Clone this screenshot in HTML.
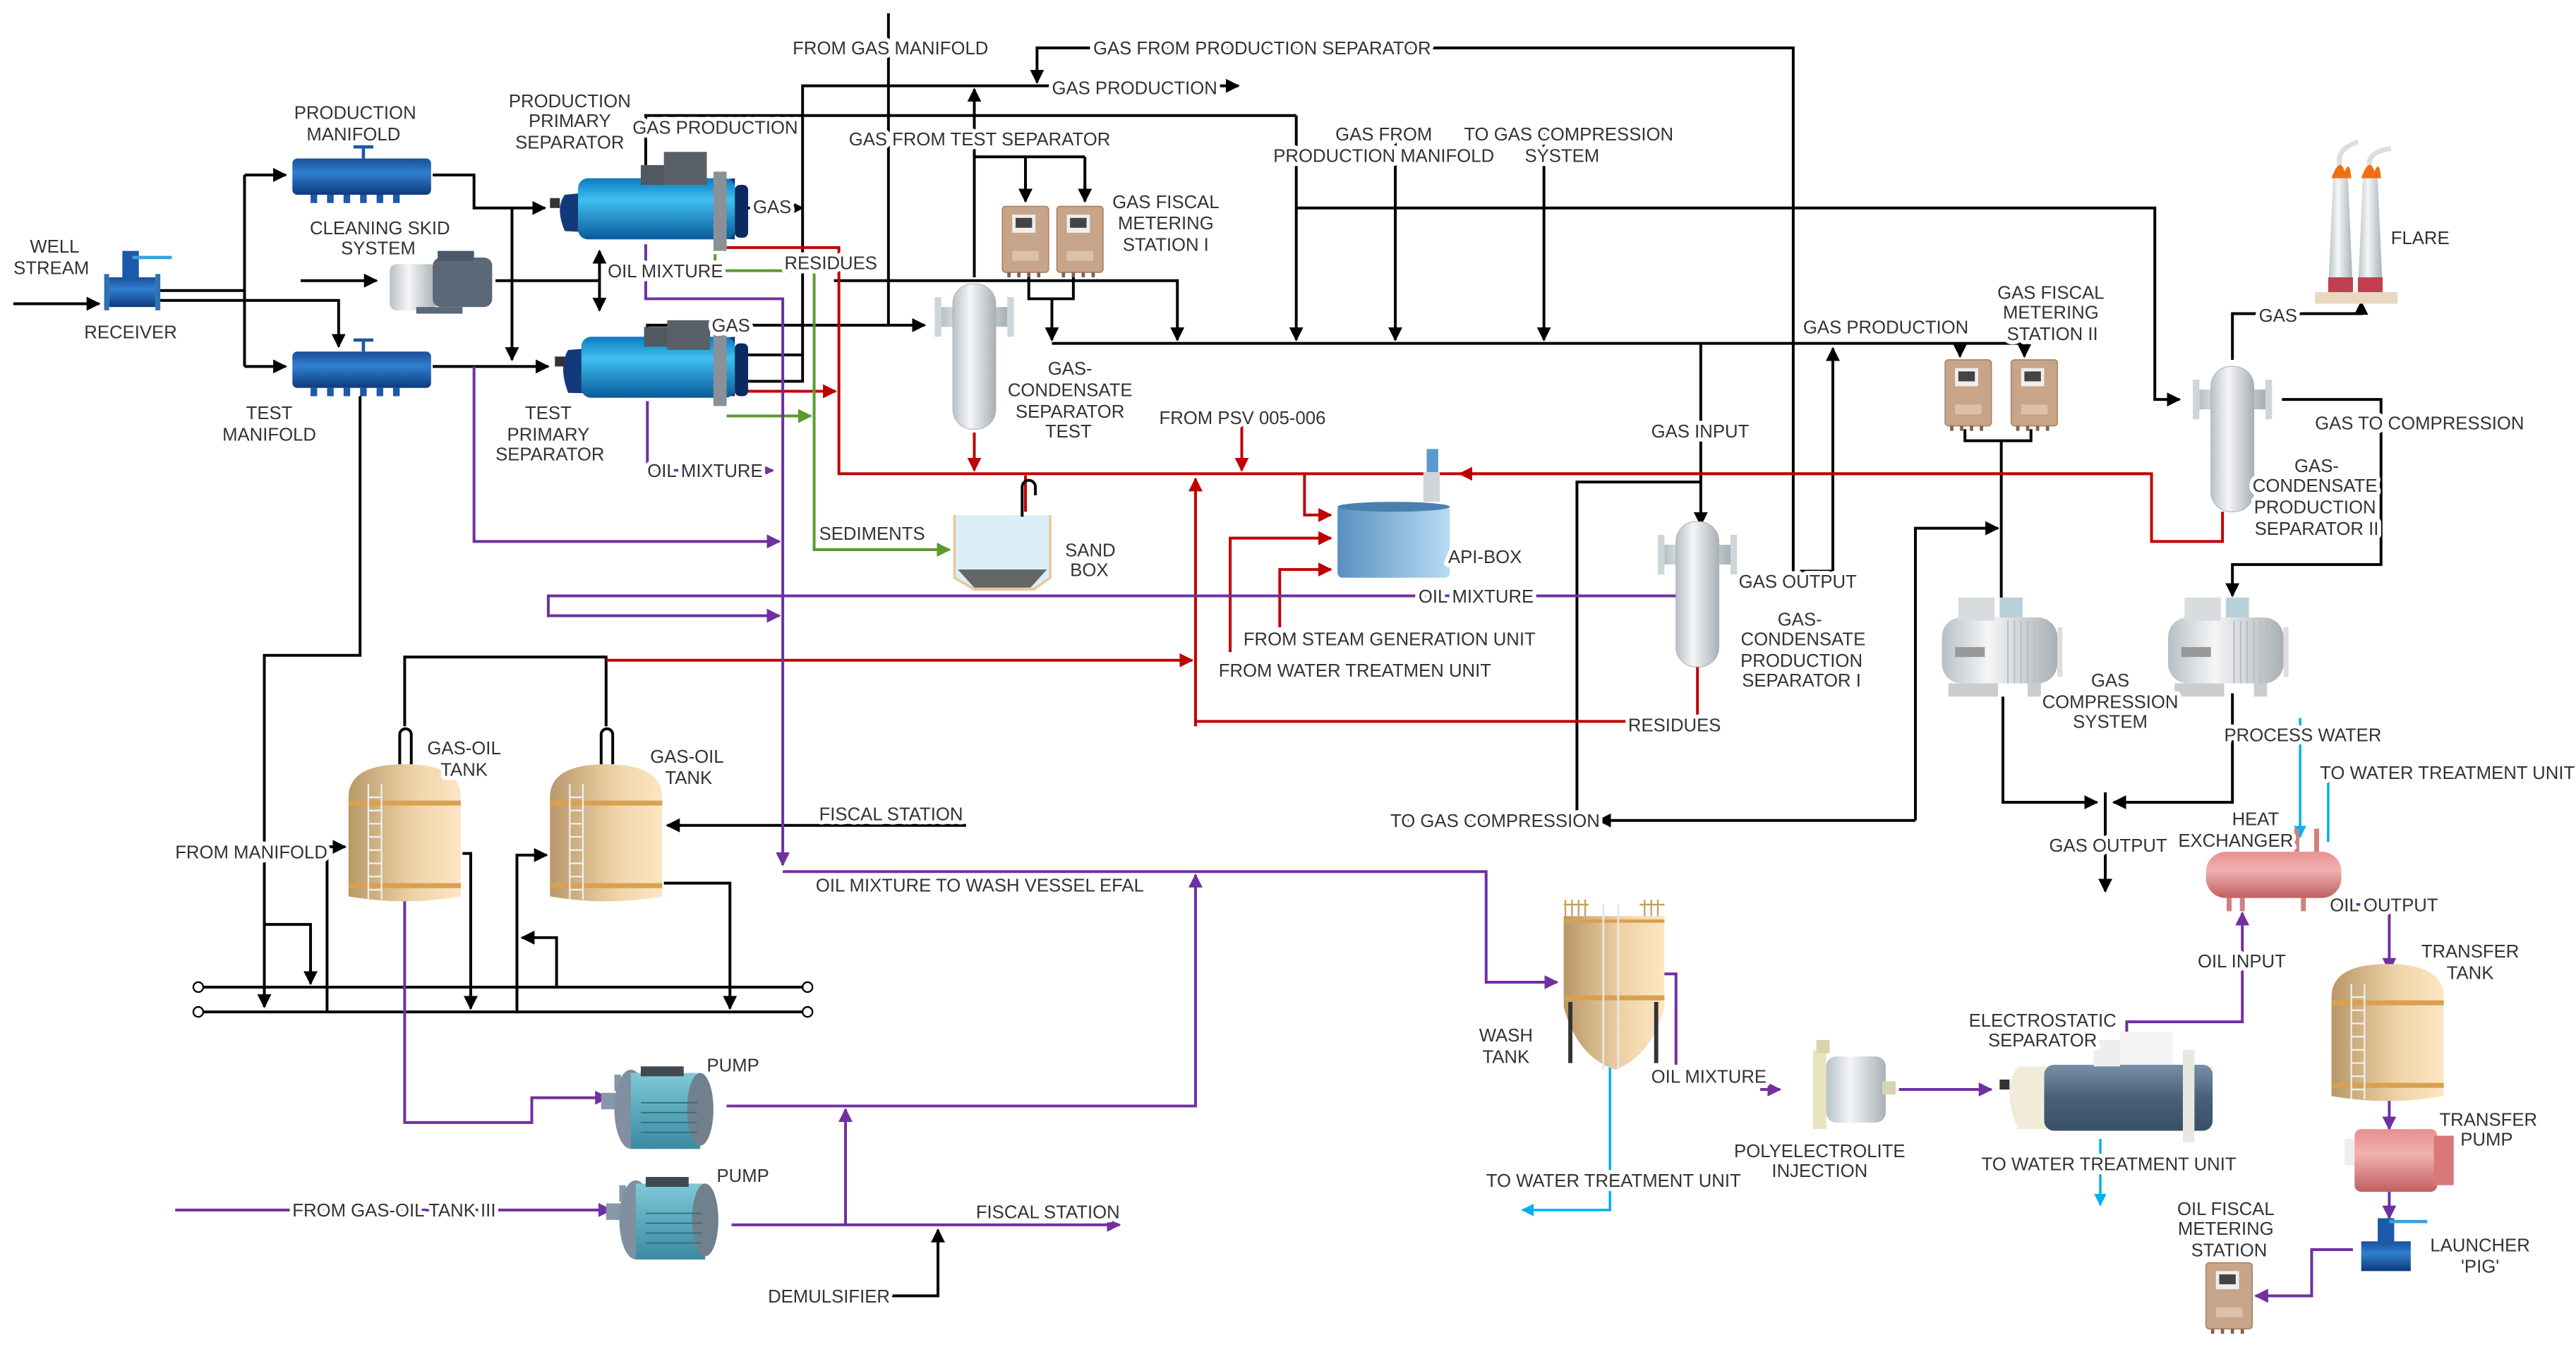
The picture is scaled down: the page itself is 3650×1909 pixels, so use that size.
<!DOCTYPE html>
<html><head><meta charset="utf-8"><style>
html,body{margin:0;padding:0;background:#fff;width:3650px;height:1909px;overflow:hidden}
svg{display:block}
text{font-family:"Liberation Sans",sans-serif;font-size:11px;fill:#333;stroke:#fff;stroke-width:5px;paint-order:stroke;stroke-linejoin:round}
.k{stroke:#000;stroke-width:1.7;fill:none}
.r{stroke:#c00000;stroke-width:1.7;fill:none}
.p{stroke:#7030a0;stroke-width:1.7;fill:none}
.g{stroke:#5a9a30;stroke-width:1.7;fill:none}
.b{stroke:#00b0f0;stroke-width:1.5;fill:none}
</style></head><body>
<svg width="3650" height="1909" viewBox="0 0 1560 816" xmlns="http://www.w3.org/2000/svg">
<defs>
<marker id="ak" viewBox="0 0 10 10" refX="9" refY="5" markerWidth="5" markerHeight="5" orient="auto"><path d="M0,0L10,5L0,10z" fill="#000"/></marker>
<marker id="ar" viewBox="0 0 10 10" refX="9" refY="5" markerWidth="5" markerHeight="5" orient="auto"><path d="M0,0L10,5L0,10z" fill="#c00000"/></marker>
<marker id="ap" viewBox="0 0 10 10" refX="9" refY="5" markerWidth="5" markerHeight="5" orient="auto"><path d="M0,0L10,5L0,10z" fill="#7030a0"/></marker>
<marker id="ag" viewBox="0 0 10 10" refX="9" refY="5" markerWidth="5" markerHeight="5" orient="auto"><path d="M0,0L10,5L0,10z" fill="#5a9a30"/></marker>
<marker id="ab" viewBox="0 0 10 10" refX="9" refY="5" markerWidth="5" markerHeight="5" orient="auto"><path d="M0,0L10,5L0,10z" fill="#00b0f0"/></marker>
<linearGradient id="blue" x1="0" y1="0" x2="0" y2="1"><stop offset="0" stop-color="#1a4f9a"/><stop offset=".4" stop-color="#2f7fd0"/><stop offset="1" stop-color="#0d3a7a"/></linearGradient>
<linearGradient id="sep" x1="0" y1="0" x2="0" y2="1"><stop offset="0" stop-color="#0a7ac0"/><stop offset=".35" stop-color="#3fc0f0"/><stop offset="1" stop-color="#0a5a9a"/></linearGradient>
<linearGradient id="silver" x1="0" y1="0" x2="1" y2="0"><stop offset="0" stop-color="#b8c0c4"/><stop offset=".4" stop-color="#f4f6f7"/><stop offset="1" stop-color="#a8b0b4"/></linearGradient>
<linearGradient id="tan" x1="0" y1="0" x2="1" y2="0"><stop offset="0" stop-color="#b89868"/><stop offset=".6" stop-color="#f0d4a8"/><stop offset="1" stop-color="#fde6c4"/></linearGradient>
<linearGradient id="pink" x1="0" y1="0" x2="0" y2="1"><stop offset="0" stop-color="#e89090"/><stop offset=".4" stop-color="#f2b0b0"/><stop offset="1" stop-color="#c06060"/></linearGradient>
<linearGradient id="api" x1="0" y1="0" x2="1" y2="0"><stop offset="0" stop-color="#5a90c0"/><stop offset="1" stop-color="#b8dcf4"/></linearGradient>
<linearGradient id="teal" x1="0" y1="0" x2="0" y2="1"><stop offset="0" stop-color="#7fc8d8"/><stop offset="1" stop-color="#3a8aa0"/></linearGradient>
<linearGradient id="grey" x1="0" y1="0" x2="0" y2="1"><stop offset="0" stop-color="#7890a8"/><stop offset=".5" stop-color="#4a6078"/><stop offset="1" stop-color="#3a5068"/></linearGradient>
<g id="meter"><rect x="0" y="0" width="28" height="40" rx="2" fill="#c8a488" stroke="#a88468" stroke-width=".7"/><rect x="6" y="5" width="14" height="11" fill="#eee"/><rect x="8" y="7" width="10" height="6" fill="#444"/><rect x="6" y="27" width="16" height="6" fill="#dcc0a8"/><path d="M4,40v3M10,40v3M16,40v3M22,40v3" stroke="#806050" stroke-width="2"/></g>
<g id="vsep"><rect x="-20" y="14" width="40" height="12" fill="url(#silver)"/><rect x="-24" y="8" width="4" height="24" fill="#cfd6d9"/><rect x="20" y="8" width="4" height="24" fill="#cfd6d9"/><rect x="-13" y="0" width="26" height="88" rx="12" fill="url(#silver)" stroke="#aab" stroke-width=".4"/></g>
<g id="tank"><path d="M0,20 Q0,0 34,0 Q68,0 68,20 V80 Q34,86 0,80Z" fill="url(#tan)"/><rect x="0" y="22" width="68" height="3" fill="#d9a050"/><rect x="0" y="72" width="68" height="3" fill="#d9a050"/><path d="M12,12V82M20,12V82" stroke="#eee" stroke-width="1"/><path d="M12,20h8M12,28h8M12,36h8M12,44h8M12,52h8M12,60h8M12,68h8M12,76h8" stroke="#eee" stroke-width="1"/></g>
<g id="pump"><rect x="0" y="14" width="10" height="10" fill="#8898a8"/><rect x="8" y="3" width="4" height="10" fill="#8898a8"/><ellipse cx="18" cy="24" rx="10" ry="24" fill="#8090a0"/><rect x="18" y="2" width="42" height="46" fill="url(#teal)"/><rect x="24" y="-2" width="26" height="6" fill="#404850"/><ellipse cx="60" cy="24" rx="8" ry="22" fill="#70808c"/><path d="M24,20h34M24,26h34M24,32h34M24,38h34" stroke="#2f7080" stroke-width=".8"/></g>
<g id="comp"><rect x="0" y="12" width="70" height="40" rx="12" fill="url(#silver)"/><rect x="10" y="0" width="22" height="14" fill="#d8dcdf"/><rect x="35" y="0" width="14" height="12" fill="#b8d0d8"/><path d="M40,14V52M44,14V52M48,14V52M52,14V52M56,14V52M60,14V52" stroke="#bbb" stroke-width=".8"/><rect x="8" y="30" width="18" height="6" fill="#999"/><rect x="4" y="52" width="30" height="8" fill="#ccc"/><rect x="52" y="52" width="8" height="8" fill="#ccc"/><rect x="70" y="18" width="3" height="30" fill="#ddd"/></g>
</defs>

<path class="k" d="M8,184H60" marker-end="url(#ak)"/>
<path class="k" d="M95,176H148M95,182H205V210" marker-end="url(#ak)"/>
<path class="k" d="M148,106V222" />
<path class="k" d="M148,106H173" marker-end="url(#ak)"/>
<path class="k" d="M148,222H173" marker-end="url(#ak)"/>
<path class="k" d="M262,106H287V126H330" marker-end="url(#ak)"/>
<path class="k" d="M310,126V218" marker-end="url(#ak)"/>
<path class="k" d="M262,222H332" marker-end="url(#ak)"/>
<path class="k" d="M182,170H228" marker-end="url(#ak)"/>
<path class="k" d="M300,170H363"/>
<path class="k" d="M363,170V152" marker-end="url(#ak)"/>
<path class="k" d="M363,170V188" marker-end="url(#ak)"/>
<path class="k" d="M453,126H486" marker-end="url(#ak)"/>
<path class="k" d="M391,108V70H785"/>
<path class="k" d="M538,8V197"/>
<path class="k" d="M486,215V52H750" marker-end="url(#ak)"/>
<path class="k" d="M453,215H486"/>
<path class="k" d="M392,205V197H560" marker-end="url(#ak)"/>
<path class="k" d="M453,231H486V215"/>
<path class="k" d="M1086,346V29H628V50" marker-end="url(#ak)"/>
<path class="k" d="M590,168V54" marker-end="url(#ak)"/>
<path class="k" d="M590,95H657M621,95V122M657,95V122" />
<path class="k" d="M621,112V122" marker-end="url(#ak)"/>
<path class="k" d="M657,112V122" marker-end="url(#ak)"/>
<path class="k" d="M505,170H713V206" marker-end="url(#ak)"/>
<path class="k" d="M623,166V181H650V166M637,181V206" marker-end="url(#ak)"/>
<path class="k" d="M637,208H1226V216" marker-end="url(#ak)"/>
<path class="k" d="M1187,208V216" marker-end="url(#ak)"/>
<path class="k" d="M785,70V206" marker-end="url(#ak)"/>
<path class="k" d="M845,75V206" marker-end="url(#ak)"/>
<path class="k" d="M935,75V206" marker-end="url(#ak)"/>
<path class="k" d="M785,126H1305V242H1320" marker-end="url(#ak)"/>
<path class="k" d="M1030,208V318" marker-end="url(#ak)"/>
<path class="k" d="M1030,292H955V497H845"/>
<path class="k" d="M1110,346V211" marker-end="url(#ak)"/>
<path class="k" d="M1090,346H1110"/>
<path class="k" d="M1190,260V267H1230V260M1212,267V388" marker-end="url(#ak)"/>
<path class="k" d="M1160,497V320H1210" marker-end="url(#ak)"/>
<path class="k" d="M1160,497H968" marker-end="url(#ak)"/>
<path class="k" d="M1352,218V190H1430V183" marker-end="url(#ak)"/>
<path class="k" d="M1382,242H1442V342H1352V361" marker-end="url(#ak)"/>
<path class="k" d="M1213,422V486H1270" marker-end="url(#ak)"/>
<path class="k" d="M1352,420V486H1280" marker-end="url(#ak)"/>
<path class="k" d="M1275,480V540" marker-end="url(#ak)"/>
<path class="k" d="M218,240V397H160V610" marker-end="url(#ak)"/>
<path class="k" d="M245,440V398H367V440"/>
<path class="k" d="M117,598H488M117,613H488" stroke-width="2"/>
<circle cx="120" cy="598" r="3" fill="#fff" stroke="#000"/><circle cx="120" cy="613" r="3" fill="#fff" stroke="#000"/>
<circle cx="489" cy="598" r="3" fill="#fff" stroke="#000"/><circle cx="489" cy="613" r="3" fill="#fff" stroke="#000"/>
<path class="k" d="M160,560H188V596" marker-end="url(#ak)"/>
<path class="k" d="M198,613V513H209" marker-end="url(#ak)"/>
<path class="k" d="M280,517H285V611" marker-end="url(#ak)"/>
<path class="k" d="M313,613V518H331" marker-end="url(#ak)"/>
<path class="k" d="M337,598V568H316" marker-end="url(#ak)"/>
<path class="k" d="M402,535H442V611" marker-end="url(#ak)"/>
<path class="k" d="M585,500H404" marker-end="url(#ak)"/>
<path class="k" d="M540,785H568V745" marker-end="url(#ak)"/>

<path class="r" d="M440,150H508V287H1303V328H1346V310"/>
<path class="r" d="M453,237H506" marker-end="url(#ar)"/>
<path class="r" d="M590,262V285" marker-end="url(#ar)"/>
<path class="r" d="M752,258V285" marker-end="url(#ar)"/>
<path class="r" d="M1300,287H884" marker-end="url(#ar)"/>
<path class="r" d="M790,287V312H806" marker-end="url(#ar)"/>
<path class="r" d="M745,395V326H806" marker-end="url(#ar)"/>
<path class="r" d="M775,380V345H806" marker-end="url(#ar)"/>
<path class="r" d="M724,440V290" marker-end="url(#ar)"/>
<path class="r" d="M724,437H985M1028,400V437"/>
<path class="r" d="M367,400H722" marker-end="url(#ar)"/>
<path class="r" d="M621,310V288" stroke-width="1"/>

<path class="g" d="M433,154V164H493V333H575" marker-end="url(#ag)"/>
<path class="g" d="M440,252H491" marker-end="url(#ag)"/>

<path class="p" d="M391,148V181H474V524" marker-end="url(#ap)"/>
<path class="p" d="M392,243V285H468" marker-end="url(#ap)"/>
<path class="p" d="M287,222V328H472" marker-end="url(#ap)"/>
<path class="p" d="M1015,361H332V373H472" marker-end="url(#ap)"/>
<path class="p" d="M474,528H900V595H943" marker-end="url(#ap)"/>
<path class="p" d="M245,545V680H322V665H368" marker-end="url(#ap)"/>
<path class="p" d="M440,670H724V530" marker-end="url(#ap)"/>
<path class="p" d="M106,733H370" marker-end="url(#ap)"/>
<path class="p" d="M443,742H678" marker-end="url(#ap)"/>
<path class="p" d="M512,742V672" marker-end="url(#ap)"/>
<path class="p" d="M1008,590H1015V645"/>
<path class="p" d="M1066,660H1078" marker-end="url(#ap)"/>
<path class="p" d="M1150,660H1206" marker-end="url(#ap)"/>
<path class="p" d="M1288,626V619H1358V553" marker-end="url(#ap)"/>
<path class="p" d="M1410,548H1447V588" marker-end="url(#ap)"/>
<path class="p" d="M1447,662V684" marker-end="url(#ap)"/>
<path class="p" d="M1447,722V738" marker-end="url(#ap)"/>
<path class="p" d="M1425,757H1400V785H1366" marker-end="url(#ap)"/>

<path class="b" d="M975,645V733H922" marker-end="url(#ab)"/>
<path class="b" d="M1272,690V730" marker-end="url(#ab)"/>
<path class="b" d="M1393,435V507" marker-end="url(#ab)"/>
<path class="b" d="M1410,472V510"/>

<rect x="66" y="168" width="28" height="18" fill="url(#blue)"/><rect x="74" y="152" width="10" height="18" fill="#1a5aa8"/><path d="M80,156H104" stroke="#3aa0e0" stroke-width="2"/>
<rect x="63" y="166" width="3" height="22" fill="#3070b0"/><rect x="94" y="166" width="3" height="22" fill="#3070b0"/>
<g><rect x="177" y="96" width="84" height="22" rx="3" fill="url(#blue)"/><path d="M190,118v5M200,118v5M210,118v5M220,118v5M230,118v5M240,118v5" stroke="#1a5aa8" stroke-width="4"/><path d="M220,96v-7M214,89h12" stroke="#1a5aa8" stroke-width="2"/></g>
<g><rect x="177" y="213" width="84" height="22" rx="3" fill="url(#blue)"/><path d="M190,235v5M200,235v5M210,235v5M220,235v5M230,235v5M240,235v5" stroke="#1a5aa8" stroke-width="4"/><path d="M220,213v-7M214,206h12" stroke="#1a5aa8" stroke-width="2"/></g>
<g><path d="M342,118 Q336,126 342,140 L445,145 V108 Z" fill="#123a7a"/><rect x="350" y="108" width="95" height="37" rx="6" fill="url(#sep)"/><rect x="388" y="100" width="20" height="12" fill="#505860"/><rect x="402" y="92" width="26" height="20" fill="#5a6068"/><rect x="432" y="104" width="8" height="48" fill="#8a9098"/><rect x="445" y="112" width="8" height="32" rx="3" fill="#0a2a60"/><rect x="333" y="120" width="6" height="6" fill="#333"/></g>
<g><path d="M344,212 Q338,222 344,238 L445,240 V204 Z" fill="#123a7a"/><rect x="352" y="204" width="93" height="37" rx="6" fill="url(#sep)"/><rect x="390" y="198" width="18" height="12" fill="#505860"/><rect x="404" y="194" width="26" height="18" fill="#5a6068"/><rect x="432" y="200" width="8" height="46" fill="#8a9098"/><rect x="445" y="208" width="8" height="32" rx="3" fill="#0a2a60"/><rect x="336" y="216" width="6" height="6" fill="#333"/></g>
<rect x="236" y="160" width="28" height="28" rx="4" fill="url(#silver)"/><rect x="262" y="156" width="36" height="30" rx="5" fill="#5a6878"/><rect x="265" y="152" width="22" height="6" fill="#4a5868"/><rect x="252" y="186" width="28" height="4" fill="#5a6878"/>
<use href="#vsep" x="590" y="172"/>
<use href="#vsep" x="1028" y="316"/>
<use href="#vsep" x="1352" y="222"/>
<use href="#meter" x="607" y="125"/><use href="#meter" x="640" y="125"/>
<use href="#meter" x="1178" y="218"/><use href="#meter" x="1218" y="218"/>
<use href="#meter" x="1336" y="765"/>
<rect x="1402" y="177" width="50" height="7" fill="#e8d8c0"/>
<path d="M1410,177 L1413,108 H1422 L1425,177Z" fill="url(#silver)"/><path d="M1428,177 L1431,108 H1440 L1443,177Z" fill="url(#silver)"/>
<rect x="1410" y="168" width="15" height="9" fill="#c04050"/><rect x="1428" y="168" width="15" height="9" fill="#c04050"/>
<path d="M1412,108 Q1417,94 1420,104 Q1423,96 1424,108Z" fill="#f07010"/><path d="M1430,108 Q1435,94 1438,104 Q1441,96 1442,108Z" fill="#f07010"/>
<path d="M1417,100 Q1415,90 1428,86M1435,100 Q1434,92 1448,90" stroke="#ddd" stroke-width="3" fill="none"/>
<use href="#comp" x="1176" y="362"/><use href="#comp" x="1313" y="362"/>
<rect x="810" y="306" width="68" height="44" rx="3" fill="url(#api)"/><ellipse cx="844" cy="307" rx="34" ry="3" fill="#4a80b0"/><rect x="864" y="272" width="7" height="14" fill="#5a9ad0"/><rect x="862" y="286" width="10" height="18" fill="#d0d6d8"/>
<path d="M578,312V350L590,357H626L636,350V312" fill="#dbeef8" stroke="#e8c898" stroke-width="1.5"/><path d="M580,345H634L624,356H590Z" fill="#666"/><path class="k" d="M619,313V295a4,4 0 0 1 8,0V300" stroke-width="1"/>
<use href="#tank" x="211" y="463"/><use href="#tank" x="333" y="463"/>
<path class="k" d="M242,463V445a3,3 0 0 1 7,0V463M364,463V445a3,3 0 0 1 7,0V463" stroke-width="1.4"/>
<use href="#pump" x="364" y="648"/><use href="#pump" x="367" y="715"/>
<path d="M947,555H1008V610Q1000,640 978,648Q955,640 947,610Z" fill="url(#tan)"/><rect x="947" y="603" width="61" height="3" fill="#d9a050"/><rect x="947" y="557" width="61" height="2" fill="#d9a050"/>
<path d="M947,548H962M993,548H1008M948,545v10M952,545v10M956,545v10M960,545v10M996,545v10M1000,545v10M1004,545v10" stroke="#c8a060" stroke-width="1"/>
<path d="M971,548V648M980,548V648" stroke="#e8e8e8" stroke-width="1.2"/>
<path d="M951,607V644M1003,607V644" stroke="#333" stroke-width="2.5"/>
<rect x="1098" y="636" width="8" height="48" fill="#e8e4c0"/><rect x="1106" y="640" width="36" height="40" rx="6" fill="url(#silver)"/><rect x="1140" y="655" width="8" height="8" fill="#d8d4b0"/><rect x="1100" y="630" width="8" height="8" fill="#d8d4b0"/>
<path d="M1222,646 Q1212,660 1222,684 H1340 V646Z" fill="#f0ecd8"/><rect x="1238" y="645" width="102" height="40" rx="6" fill="url(#grey)"/><rect x="1268" y="630" width="16" height="16" fill="#eee"/><rect x="1284" y="625" width="32" height="20" fill="#f4f4f4"/><rect x="1322" y="636" width="7" height="56" fill="#e8e8e0"/><rect x="1211" y="654" width="6" height="6" fill="#333"/>
<rect x="1336" y="516" width="82" height="28" rx="12" fill="url(#pink)"/><path d="M1358,544v8M1395,544v8M1391,516v-14M1403,516v-14M1350,544v8" stroke="#d08080" stroke-width="3"/>
<use href="#tank" x="1412" y="584"/>
<rect x="1420" y="690" width="8" height="16" fill="#eee"/><rect x="1426" y="684" width="50" height="38" rx="4" fill="url(#pink)"/><rect x="1474" y="688" width="12" height="30" fill="#d87878"/>
<rect x="1430" y="752" width="30" height="18" fill="url(#blue)"/><rect x="1440" y="738" width="10" height="16" fill="#1a5aa8"/><path d="M1447,740H1470" stroke="#3aa0e0" stroke-width="2"/>

<g text-anchor="middle">
<text x="33" y="153">WELL</text><text x="31" y="166">STREAM</text>
<text x="79" y="205">RECEIVER</text>
<text x="215" y="72">PRODUCTION</text><text x="214" y="85">MANIFOLD</text>
<text x="345" y="65">PRODUCTION</text><text x="345" y="77">PRIMARY</text><text x="345" y="90">SEPARATOR</text>
<text x="230" y="142">CLEANING SKID</text><text x="229" y="154">SYSTEM</text>
<text x="163" y="254">TEST</text><text x="163" y="267">MANIFOLD</text>
<text x="332" y="254">TEST</text><text x="332" y="267">PRIMARY</text><text x="333" y="279">SEPARATOR</text>
<text x="706" y="126">GAS FISCAL</text><text x="706" y="139">METERING</text><text x="706" y="152">STATION I</text>
<text x="648" y="227">GAS-</text><text x="648" y="240">CONDENSATE</text><text x="648" y="253">SEPARATOR</text><text x="647" y="265">TEST</text>
<text x="838" y="85">GAS FROM</text><text x="838" y="98">PRODUCTION MANIFOLD</text>
<text x="950" y="85">TO GAS COMPRESSION</text><text x="946" y="98">SYSTEM</text>
<text x="1242" y="181">GAS FISCAL</text><text x="1242" y="193">METERING</text><text x="1243" y="206">STATION II</text>
<text x="1090" y="379">GAS-</text><text x="1092" y="391">CONDENSATE</text><text x="1091" y="404">PRODUCTION</text><text x="1091" y="416">SEPARATOR I</text>
<text x="1403" y="286">GAS-</text><text x="1402" y="298">CONDENSATE</text><text x="1402" y="311">PRODUCTION</text><text x="1403" y="324">SEPARATOR II</text>
<text x="1278" y="416">GAS</text><text x="1278" y="429">COMPRESSION</text><text x="1278" y="441">SYSTEM</text>
<text x="281" y="457">GAS-OIL</text><text x="281" y="470">TANK</text>
<text x="416" y="462">GAS-OIL</text><text x="417" y="475">TANK</text>
<text x="912" y="631">WASH</text><text x="912" y="644">TANK</text>
<text x="1102" y="701">POLYELECTROLITE</text><text x="1102" y="713">INJECTION</text>
<text x="1237" y="622">ELECTROSTATIC</text><text x="1237" y="634">SEPARATOR</text>
<text x="1366" y="500">HEAT</text><text x="1354" y="513">EXCHANGER</text>
<text x="1496" y="580">TRANSFER</text><text x="1496" y="593">TANK</text>
<text x="1507" y="682">TRANSFER</text><text x="1506" y="694">PUMP</text>
<text x="1502" y="758">LAUNCHER</text><text x="1502" y="771">'PIG'</text>
<text x="1348" y="736">OIL FISCAL</text><text x="1348" y="748">METERING</text><text x="1350" y="761">STATION</text>
</g>
<text x="480" y="33">FROM GAS MANIFOLD</text>
<text x="662" y="33">GAS FROM PRODUCTION SEPARATOR</text>
<text x="637" y="57">GAS PRODUCTION</text>
<text x="383" y="81">GAS PRODUCTION</text>
<text x="514" y="88">GAS FROM TEST SEPARATOR</text>
<text x="456" y="129">GAS</text>
<text x="368" y="168">OIL MIXTURE</text>
<text x="475" y="163">RESIDUES</text>
<text x="431" y="201">GAS</text>
<text x="392" y="289">OIL MIXTURE</text>
<text x="496" y="327">SEDIMENTS</text>
<text x="645" y="337">SAND</text><text x="648" y="349">BOX</text>
<text x="702" y="257">FROM PSV 005-006</text>
<text x="877" y="341">API-BOX</text>
<text x="859" y="365">OIL MIXTURE</text>
<text x="753" y="391">FROM STEAM GENERATION UNIT</text>
<text x="738" y="410">FROM WATER TREATMEN UNIT</text>
<text x="986" y="443">RESIDUES</text>
<text x="1000" y="265">GAS INPUT</text>
<text x="1053" y="356">GAS OUTPUT</text>
<text x="1092" y="202">GAS PRODUCTION</text>
<text x="1448" y="148">FLARE</text>
<text x="1368" y="195">GAS</text>
<text x="1402" y="260">GAS TO COMPRESSION</text>
<text x="1347" y="449">PROCESS WATER</text>
<text x="1405" y="472">TO WATER TREATMENT UNIT</text>
<text x="1241" y="516">GAS OUTPUT</text>
<text x="1411" y="552">OIL OUTPUT</text>
<text x="1331" y="586">OIL INPUT</text>
<text x="842" y="501">TO GAS COMPRESSION</text>
<text x="496" y="497">FISCAL STATION</text>
<text x="494" y="540">OIL MIXTURE TO WASH VESSEL EFAL</text>
<text x="106" y="520">FROM MANIFOLD</text>
<text x="428" y="649">PUMP</text>
<text x="434" y="716">PUMP</text>
<text x="177" y="737">FROM GAS-OIL TANK III</text>
<text x="591" y="738">FISCAL STATION</text>
<text x="465" y="789">DEMULSIFIER</text>
<text x="1000" y="656">OIL MIXTURE</text>
<text x="900" y="719">TO WATER TREATMENT UNIT</text>
<text x="1200" y="709">TO WATER TREATMENT UNIT</text>
</svg>
</body></html>
